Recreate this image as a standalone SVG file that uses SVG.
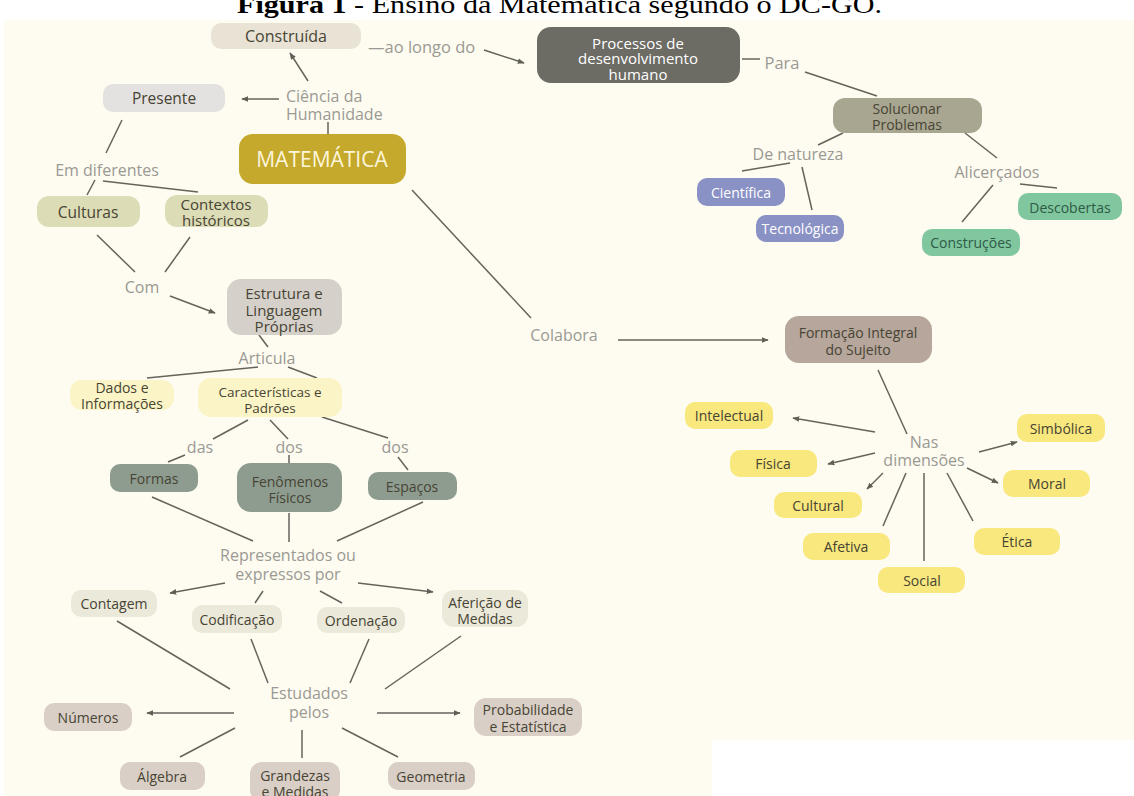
<svg xmlns="http://www.w3.org/2000/svg" width="1134" height="796" viewBox="0 0 1134 796">
  <defs>
    <marker id="arr" viewBox="0 0 10 10" refX="9" refY="5" markerWidth="7" markerHeight="7" orient="auto" markerUnits="userSpaceOnUse">
      <path d="M0,1 L10,5 L0,9 z" fill="#5f5e57"/>
    </marker>
    <style>
      .bg { fill: #fefcf0; }
      .box { stroke: none; }
      .t { font-family: "Open Sans", Lato, "Liberation Sans", sans-serif; text-anchor: middle; dominant-baseline: central; fill: #474434; font-size: 14px; }
      .lbl { font-family: "Open Sans", Lato, "Liberation Sans", sans-serif; text-anchor: middle; dominant-baseline: central; fill: #9a9994; font-size: 16px; }
      .s { text-anchor: start; }
      .f135 { font-size: 13.5px; }
      .f15 { font-size: 15px; }
      .f155 { font-size: 15.5px; }
      .f16 { font-size: 16px; }
      .f165 { font-size: 16.5px; }
      .w { fill: #ffffff; }
      .mat { fill: #fdf6dc; font-size: 21px; }
      .green { fill: #2f5a45; }
      .conn line { stroke: #64635c; stroke-width: 1.5; fill: none; }
      .a { marker-end: url(#arr); }
      .c-construida { fill: #e9e3d5; }
      .c-presente { fill: #e4e2e1; }
      .c-mat { fill: #c4a92c; }
      .c-cult { fill: #dcdcb6; }
      .c-estr { fill: #d5d0ca; }
      .c-dados { fill: #fbf4c6; }
      .c-formas { fill: #8e9c90; }
      .c-repr { fill: #ebe9da; }
      .c-estud { fill: #d9cfc6; }
      .c-proc { fill: #6c6b64; }
      .c-sol { fill: #a8a690; }
      .c-nat { fill: #8a91c5; }
      .c-alic { fill: #80c7a0; }
      .c-form { fill: #b6a69b; }
      .c-dim { fill: #f9e87d; }
    </style>
  </defs>

  <!-- page -->
  <rect x="0" y="0" width="1134" height="796" fill="#ffffff"/>
  <text x="237" y="13" font-family="'Liberation Serif', 'Times New Roman', serif" font-size="26" fill="#000000" textLength="645" lengthAdjust="spacingAndGlyphs"><tspan font-weight="bold">Figura 1</tspan> - Ensino da Matemática segundo o DC-GO.</text>
  <rect class="bg" x="4" y="20" width="1130" height="776"/>
  <rect x="712" y="740" width="422" height="56" fill="#ffffff"/>

  <!-- connectors -->
  <g id="connectors" class="conn">
    <line x1="484" y1="50" x2="524" y2="63" class="a"/>
    <line x1="742" y1="59" x2="760" y2="59"/>
    <line x1="805" y1="72" x2="877" y2="96"/>
    <line x1="843" y1="133" x2="818" y2="145"/>
    <line x1="742" y1="171" x2="790" y2="163"/>
    <line x1="802" y1="167" x2="812" y2="210"/>
    <line x1="965" y1="133" x2="997" y2="158"/>
    <line x1="993" y1="185" x2="962" y2="222"/>
    <line x1="1020" y1="184" x2="1057" y2="188"/>
    <line x1="308" y1="81" x2="290" y2="53" class="a"/>
    <line x1="279" y1="99" x2="242" y2="99" class="a"/>
    <line x1="328" y1="122" x2="328" y2="134"/>
    <line x1="122" y1="120" x2="106" y2="153"/>
    <line x1="95" y1="180" x2="87" y2="195"/>
    <line x1="103" y1="181" x2="198" y2="192"/>
    <line x1="97" y1="235" x2="135" y2="272"/>
    <line x1="190" y1="237" x2="165" y2="272"/>
    <line x1="170" y1="296" x2="215" y2="313" class="a"/>
    <line x1="259" y1="335" x2="268" y2="347"/>
    <line x1="258" y1="367" x2="147" y2="378"/>
    <line x1="288" y1="367" x2="317" y2="378"/>
    <line x1="248" y1="420" x2="213" y2="439"/>
    <line x1="270" y1="420" x2="288" y2="439"/>
    <line x1="322" y1="417" x2="388" y2="438"/>
    <line x1="185" y1="455" x2="168" y2="462"/>
    <line x1="289" y1="455" x2="289" y2="463"/>
    <line x1="398" y1="457" x2="408" y2="470"/>
    <line x1="152" y1="497" x2="253" y2="541"/>
    <line x1="289" y1="513" x2="289" y2="542"/>
    <line x1="423" y1="502" x2="337" y2="541"/>
    <line x1="225" y1="583" x2="170" y2="593" class="a"/>
    <line x1="263" y1="591" x2="255" y2="603"/>
    <line x1="320" y1="591" x2="342" y2="603"/>
    <line x1="358" y1="583" x2="433" y2="592" class="a"/>
    <line x1="117" y1="621" x2="230" y2="689"/>
    <line x1="251" y1="639" x2="268" y2="683"/>
    <line x1="369" y1="639" x2="350" y2="683"/>
    <line x1="461" y1="636" x2="385" y2="689"/>
    <line x1="234" y1="713" x2="147" y2="713" class="a"/>
    <line x1="377" y1="713" x2="460" y2="713" class="a"/>
    <line x1="235" y1="728" x2="180" y2="757"/>
    <line x1="302" y1="730" x2="302" y2="758"/>
    <line x1="342" y1="728" x2="398" y2="757"/>
    <line x1="412" y1="190" x2="531" y2="318"/>
    <line x1="618" y1="340" x2="768" y2="340" class="a"/>
    <line x1="878" y1="370" x2="907" y2="434"/>
    <line x1="875" y1="432" x2="793" y2="418" class="a"/>
    <line x1="875" y1="453" x2="828" y2="464" class="a"/>
    <line x1="883" y1="473" x2="867" y2="489" class="a"/>
    <line x1="906" y1="473" x2="883" y2="526"/>
    <line x1="924" y1="473" x2="924" y2="561"/>
    <line x1="947" y1="473" x2="973" y2="521"/>
    <line x1="967" y1="468" x2="998" y2="483" class="a"/>
    <line x1="979" y1="452" x2="1017" y2="442" class="a"/>
  </g>

  <!-- linking phrases -->
  <g id="phrases">
    <text class="lbl s f165" x="368" y="46">—ao longo do</text>
    <text class="lbl f165" x="782" y="62">Para</text>
    <text class="lbl" x="798" y="154">De natureza</text>
    <text class="lbl" x="997" y="172">Alicerçados</text>
    <text class="lbl s" x="286" y="96">Ciência da</text>
    <text class="lbl s" x="286" y="114">Humanidade</text>
    <text class="lbl" x="107" y="170">Em diferentes</text>
    <text class="lbl" x="142" y="287">Com</text>
    <text class="lbl" x="267" y="358">Articula</text>
    <text class="lbl" x="200" y="447">das</text>
    <text class="lbl" x="289" y="447">dos</text>
    <text class="lbl" x="395" y="447">dos</text>
    <text class="lbl" x="288" y="555">Representados ou</text>
    <text class="lbl" x="288" y="574">expressos por</text>
    <text class="lbl" x="309" y="693">Estudados</text>
    <text class="lbl" x="309" y="712">pelos</text>
    <text class="lbl" x="564" y="335">Colabora</text>
    <text class="lbl" x="924" y="442">Nas</text>
    <text class="lbl" x="924" y="460">dimensões</text>
  </g>

  <!-- concepts -->
  <g id="n-construida"><rect class="box c-construida" x="211" y="23" width="150" height="26" rx="10"/><text class="t f16" x="286" y="36">Construída</text></g>
  <g id="n-processos"><rect class="box c-proc" x="537" y="27" width="203" height="56" rx="14"/><text class="t w f15" x="638" y="42.5">Processos de</text><text class="t w f15" x="638" y="58">desenvolvimento</text><text class="t w f15" x="638" y="73.5">humano</text></g>
  <g id="n-solucionar"><rect class="box c-sol" x="833" y="98" width="149" height="35" rx="12"/><text class="t" x="907" y="108">Solucionar</text><text class="t" x="907" y="124">Problemas</text></g>
  <g id="n-cientifica"><rect class="box c-nat" x="697" y="178" width="88" height="28" rx="10"/><text class="t w" x="741" y="192">Científica</text></g>
  <g id="n-tecnologica"><rect class="box c-nat" x="756" y="215" width="88" height="27" rx="10"/><text class="t w" x="800" y="228">Tecnológica</text></g>
  <g id="n-descobertas"><rect class="box c-alic" x="1018" y="193" width="104" height="27" rx="10"/><text class="t green" x="1070" y="207">Descobertas</text></g>
  <g id="n-construcoes"><rect class="box c-alic" x="922" y="229" width="98" height="27" rx="10"/><text class="t green" x="971" y="242">Construções</text></g>
  <g id="n-presente"><rect class="box c-presente" x="103" y="84" width="122" height="28" rx="10"/><text class="t f155" x="164" y="98">Presente</text></g>
  <g id="n-matematica"><rect class="box c-mat" x="239" y="134" width="167" height="50" rx="14"/><text class="t mat" x="322" y="159">MATEMÁTICA</text></g>
  <g id="n-culturas"><rect class="box c-cult" x="37" y="196" width="103" height="31" rx="12"/><text class="t f155" x="88" y="212">Culturas</text></g>
  <g id="n-contextos"><rect class="box c-cult" x="165" y="195" width="103" height="32" rx="12"/><text class="t f15" x="216" y="204">Contextos</text><text class="t f15" x="216" y="220">históricos</text></g>
  <g id="n-estrutura"><rect class="box c-estr" x="227" y="279" width="115" height="56" rx="14"/><text class="t f15" x="284" y="293">Estrutura e</text><text class="t f15" x="284" y="310">Linguagem</text><text class="t f15" x="284" y="326">Próprias</text></g>
  <g id="n-dados"><rect class="box c-dados" x="70" y="380" width="104" height="30" rx="12"/><text class="t" x="122" y="387">Dados e</text><text class="t" x="122" y="403">Informações</text></g>
  <g id="n-caracteristicas"><rect class="box c-dados" x="198" y="378" width="144" height="39" rx="13"/><text class="t f135" x="270" y="392">Características e</text><text class="t f135" x="270" y="408">Padrões</text></g>
  <g id="n-formas"><rect class="box c-formas" x="110" y="464" width="88" height="28" rx="10"/><text class="t" x="154" y="478">Formas</text></g>
  <g id="n-fenomenos"><rect class="box c-formas" x="237" y="463" width="105" height="49" rx="14"/><text class="t" x="290" y="481">Fenômenos</text><text class="t" x="290" y="497">Físicos</text></g>
  <g id="n-espacos"><rect class="box c-formas" x="368" y="472" width="89" height="28" rx="10"/><text class="t" x="412" y="486">Espaços</text></g>
  <g id="n-contagem"><rect class="box c-repr" x="71" y="590" width="86" height="27" rx="10"/><text class="t" x="114" y="603">Contagem</text></g>
  <g id="n-codificacao"><rect class="box c-repr" x="192" y="605" width="90" height="28" rx="10"/><text class="t" x="237" y="619">Codificação</text></g>
  <g id="n-ordenacao"><rect class="box c-repr" x="317" y="607" width="88" height="26" rx="10"/><text class="t" x="361" y="620">Ordenação</text></g>
  <g id="n-afericao"><rect class="box c-repr" x="442" y="590" width="86" height="37" rx="12"/><text class="t" x="485" y="602">Aferição de</text><text class="t" x="485" y="618">Medidas</text></g>
  <g id="n-numeros"><rect class="box c-estud" x="44" y="703" width="88" height="28" rx="10"/><text class="t" x="88" y="717">Números</text></g>
  <g id="n-probabilidade"><rect class="box c-estud" x="474" y="698" width="108" height="38" rx="12"/><text class="t" x="528" y="709">Probabilidade</text><text class="t" x="528" y="726">e Estatística</text></g>
  <g id="n-algebra"><rect class="box c-estud" x="120" y="762" width="85" height="28" rx="10"/><text class="t" x="162" y="776">Álgebra</text></g>
  <g id="n-grandezas"><rect class="box c-estud" x="250" y="762" width="90" height="40" rx="12"/><text class="t" x="295" y="775">Grandezas</text><text class="t" x="295" y="791">e Medidas</text></g>
  <g id="n-geometria"><rect class="box c-estud" x="388" y="762" width="87" height="28" rx="10"/><text class="t" x="431" y="776">Geometria</text></g>
  <g id="n-formacao"><rect class="box c-form" x="785" y="316" width="147" height="47" rx="14"/><text class="t" x="858" y="332">Formação Integral</text><text class="t" x="858" y="349">do Sujeito</text></g>
  <g id="n-intelectual"><rect class="box c-dim" x="685" y="402" width="88" height="27" rx="10"/><text class="t" x="729" y="415">Intelectual</text></g>
  <g id="n-fisica"><rect class="box c-dim" x="730" y="450" width="87" height="27" rx="10"/><text class="t" x="773" y="463">Física</text></g>
  <g id="n-cultural"><rect class="box c-dim" x="774" y="492" width="88" height="26" rx="10"/><text class="t" x="818" y="505">Cultural</text></g>
  <g id="n-afetiva"><rect class="box c-dim" x="803" y="533" width="87" height="27" rx="10"/><text class="t" x="846" y="546">Afetiva</text></g>
  <g id="n-social"><rect class="box c-dim" x="878" y="567" width="87" height="26" rx="10"/><text class="t" x="922" y="580">Social</text></g>
  <g id="n-etica"><rect class="box c-dim" x="974" y="528" width="86" height="27" rx="10"/><text class="t" x="1017" y="541">Ética</text></g>
  <g id="n-moral"><rect class="box c-dim" x="1003" y="470" width="87" height="27" rx="10"/><text class="t" x="1047" y="483">Moral</text></g>
  <g id="n-simbolica"><rect class="box c-dim" x="1017" y="414" width="88" height="28" rx="10"/><text class="t" x="1061" y="428">Simbólica</text></g>
</svg>
